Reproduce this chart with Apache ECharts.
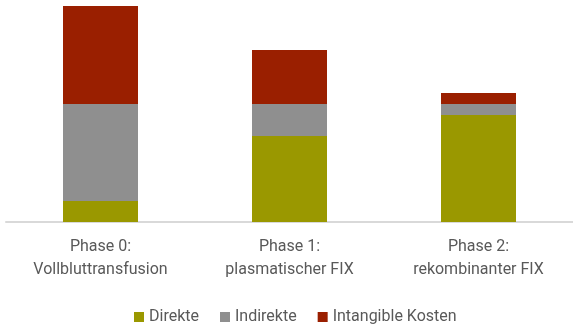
<!DOCTYPE html>
<html>
<head>
<meta charset="utf-8">
<script src="https://cdn.jsdelivr.net/npm/echarts@6/dist/echarts.min.js"></script>
<style>
  html, body { margin: 0; padding: 0; background: #fff; }
  #chart { width: 573px; height: 327px; }
</style>
</head>
<body>
<div id="chart"></div>
<script>
// Kategorien und Werte (relative Kosten)
var phasen = ['Phase 0:\nVollbluttransfusion', 'Phase 1:\nplasmatischer FIX', 'Phase 2:\nrekombinanter FIX'];
var direkte = [21, 86, 107];
var indirekte = [97, 32, 11];
var intangible = [98, 54, 11];

var chart = echarts.init(document.getElementById('chart'));
var font = 'Roboto';

option = {
  animation: false,
  grid: {
    left: 6,
    right: -3,
    top: 6,
    bottom: 105
  },
  legend: {
    top: 304,
    left: 129,
    itemWidth: 10,
    itemHeight: 10,
    itemGap: 21,
    icon: 'rect',
    textStyle: { color: '#595959', fontSize: 16, fontFamily: font },
    data: ['Direkte', 'Indirekte', 'Intangible Kosten']
  },
  xAxis: {
    type: 'category',
    data: phasen,
    axisLine: { lineStyle: { color: '#d9d9d9', width: 2 } },
    axisTick: { show: false },
    axisLabel: {
      color: '#595959',
      fontSize: 16,
      fontFamily: font,
      lineHeight: 23,
      margin: 13
    }
  },
  yAxis: {
    type: 'value',
    min: 0,
    max: 216,
    show: false,
    splitLine: { show: false }
  },
  series: [
    {
      name: 'Direkte',
      type: 'bar',
      stack: 'kosten',
      barWidth: 75,
      itemStyle: { color: '#9a9800' },
      data: direkte
    },
    {
      name: 'Indirekte',
      type: 'bar',
      stack: 'kosten',
      itemStyle: { color: '#8f8f8f' },
      data: indirekte
    },
    {
      name: 'Intangible Kosten',
      type: 'bar',
      stack: 'kosten',
      itemStyle: { color: '#9a1f00' },
      data: intangible
    }
  ]
};
chart.setOption(option);
</script>
</body>
</html>
